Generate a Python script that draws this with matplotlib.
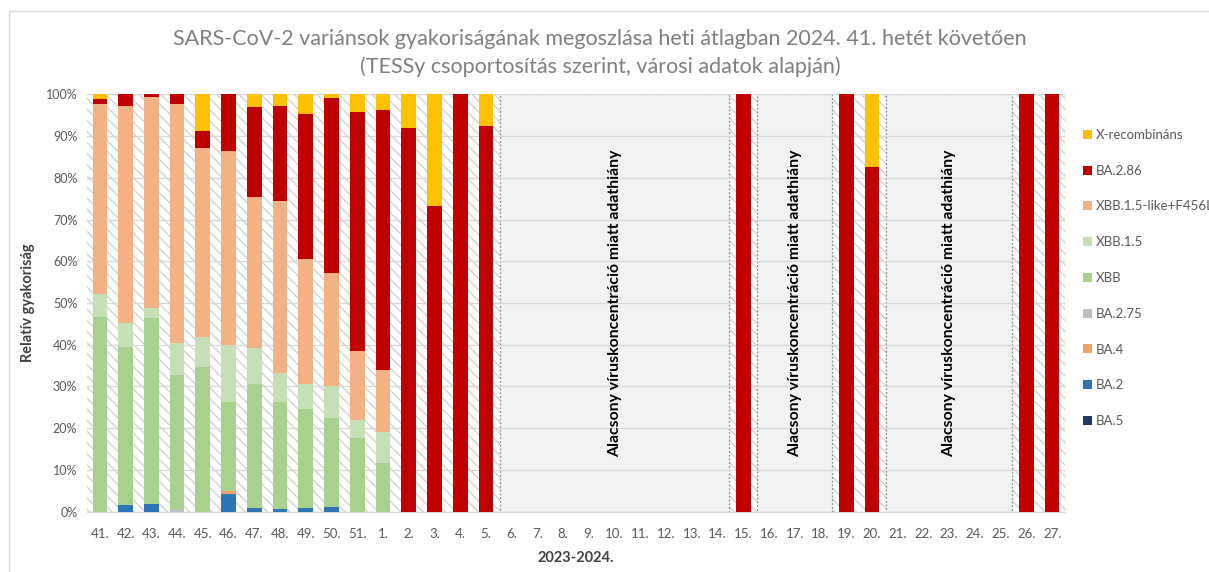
import matplotlib
matplotlib.use("Agg")
import matplotlib.pyplot as plt
from matplotlib.patches import Patch, Rectangle
import numpy as np

plt.rcParams['font.family'] = ['Lato', 'DejaVu Sans']
plt.rcParams['hatch.linewidth'] = 1.0
plt.rcParams['hatch.color'] = '#D3D3D3'

weeks = ['41.', '42.', '43.', '44.', '45.', '46.', '47.', '48.', '49.', '50.', '51.',
         '1.', '2.', '3.', '4.', '5.', '6.', '7.', '8.', '9.', '10.', '11.', '12.', '13.', '14.',
         '15.', '16.', '17.', '18.', '19.', '20.', '21.', '22.', '23.', '24.', '25.', '26.', '27.']

#            41   42   43   44   45   46   47   48   49   50   51    1    2     3    4     5   6-14              15   16-18    19    20    21-25       26    27
BA5      = [0,   0,   0,   0,   0,   0,   0,   0,   0,   0,   0,   0,   0,    0,   0,    0,  0,0,0,0,0,0,0,0,0, 0,   0,0,0,   0,    0,    0,0,0,0,0,  0,    0]
BA2      = [0, 1.6, 1.8,   0,   0, 4.2, 1.0, 0.6, 0.8, 1.2,   0,   0,   0,    0,   0,    0,  0,0,0,0,0,0,0,0,0, 0,   0,0,0,   0,    0,    0,0,0,0,0,  0,    0]
BA4      = [0,   0,   0,   0,   0, 0.8,   0,   0,   0,   0,   0,   0,   0,    0,   0,    0,  0,0,0,0,0,0,0,0,0, 0,   0,0,0,   0,    0,    0,0,0,0,0,  0,    0]
BA275    = [0,   0,   0, 0.6,   0,   0,   0,   0,   0,   0,   0,   0,   0,    0,   0,    0,  0,0,0,0,0,0,0,0,0, 0,   0,0,0,   0,    0,    0,0,0,0,0,  0,    0]
XBB      = [46.7, 37.8, 44.5, 32.1, 34.7, 21.4, 29.5, 25.8, 23.8, 21.3, 17.6, 11.6, 0, 0, 0, 0, 0,0,0,0,0,0,0,0,0, 0, 0,0,0, 0, 0, 0,0,0,0,0, 0, 0]
XBB15    = [5.5, 5.7, 2.4, 7.8, 7.2, 13.5, 8.7, 6.8, 6.1, 7.6, 4.4, 7.4, 0, 0, 0, 0, 0,0,0,0,0,0,0,0,0, 0, 0,0,0, 0, 0, 0,0,0,0,0, 0, 0]
XBBlike  = [45.5, 52.2, 50.7, 57.1, 45.2, 46.6, 36.2, 41.2, 29.8, 27.2, 16.6, 14.9, 0, 0, 0, 0, 0,0,0,0,0,0,0,0,0, 0, 0,0,0, 0, 0, 0,0,0,0,0, 0, 0]
BA286    = [1.2, 2.7, 0.6, 2.4, 4.2, 13.5, 21.6, 22.8, 34.9, 41.7, 57.1, 62.3, 91.9, 73.3, 100, 92.5, 0,0,0,0,0,0,0,0,0, 100, 0,0,0, 100, 82.5, 0,0,0,0,0, 100, 100]
Xrec     = [1.1, 0, 0, 0, 8.7, 0, 3.0, 2.8, 4.6, 1.0, 4.3, 3.8, 8.1, 26.7, 0, 7.5, 0,0,0,0,0,0,0,0,0, 0, 0,0,0, 0, 17.5, 0,0,0,0,0, 0, 0]

series_names = ['BA.5', 'BA.2', 'BA.4', 'BA.2.75', 'XBB', 'XBB.1.5', 'XBB.1.5-like+F456L', 'BA.2.86', 'X-recombináns']
series_vals = [BA5, BA2, BA4, BA275, XBB, XBB15, XBBlike, BA286, Xrec]
series_colors = ['#203864', '#2E75B6', '#F4A06A', '#BFBFBF', '#A9D18E', '#C5E0B4', '#F4B183', '#C00000', '#FFC000']

missing_ranges = [('6.', '14.'), ('16.', '18.'), ('21.', '25.')]
missing_text = 'Alacsony víruskoncentráció miatt adathiány'

title_text = ('SARS-CoV-2 variánsok gyakoriságának megoszlása heti átlagban 2024. 41. hetét követően\n'
              '(TESSy csoportosítás szerint, városi adatok alapján)')

W, H = 1209, 572
fig = plt.figure(figsize=(W / 100, H / 100), dpi=100)
ax = fig.add_axes([87 / W, 1 - 511.7 / H, (1065 - 87) / W, (511.7 - 94.3) / H])

# outer frame of the chart
fig.patches.append(Rectangle((9 / W, -0.1), 1.2, 1 - 11 / H + 0.1, transform=fig.transFigure,
                             facecolor='none', edgecolor='#D9D9D9', lw=1.0))

x = np.arange(len(weeks))
ax.set_xlim(-0.5, len(weeks) - 0.5)
ax.set_ylim(0, 1)

# hatched plot area
ax.add_patch(Rectangle((-0.5, 0), len(weeks), 1, facecolor='white', edgecolor='#D3D3D3',
                       hatch='\\\\\\', lw=0.01, zorder=0.5))
ax.set_facecolor('white')
ax.yaxis.grid(True, color='#D9D9D9', lw=1.0)
ax.set_axisbelow(False)
for ln in ax.get_ygridlines():
    ln.set_zorder(1)

bottom = np.zeros(len(weeks))
for name, vals, col in zip(series_names, series_vals, series_colors):
    v = np.array(vals, dtype=float) / 100.0
    ax.bar(x, v, bottom=bottom, width=0.57, color=col, edgecolor='none', zorder=3, label=name)
    bottom += v

for first, last in missing_ranges:
    i0 = weeks.index(first)
    i1 = weeks.index(last)
    left = i0 - 0.45
    right = i1 + 0.45
    ax.add_patch(Rectangle((left, 0), right - left, 1, facecolor='#F2F2F2', edgecolor='#8C8C8C',
                           lw=0.9, ls=(0, (1.5, 1.5)), zorder=2))
    ax.text((left + right) / 2, 0.5, missing_text, rotation=90, ha='center', va='center',
            fontsize=11.3, fontweight='bold', color='black', zorder=4)

ax.set_xticks(x)
ax.set_xticklabels(weeks, fontsize=9.5, color='#595959')
ax.set_yticks(np.linspace(0, 1, 11))
ax.set_yticklabels([f'{int(round(t * 100))}%' for t in np.linspace(0, 1, 11)], fontsize=9, color='#595959')
ax.tick_params(axis='both', length=0)
ax.tick_params(axis='x', pad=12)
ax.tick_params(axis='y', pad=7)
for s in ['top', 'right', 'left']:
    ax.spines[s].set_visible(False)
ax.spines['bottom'].set_color('#D9D9D9')
ax.spines['bottom'].set_zorder(1)

ax.set_xlabel('2023-2024.', fontsize=10.5, fontweight='bold', color='#404040')
ax.xaxis.set_label_coords(0.5, -(551 - 511.7) / (511.7 - 94.3))
ax.set_ylabel('Relatív gyakoriság', fontsize=10.5, fontweight='bold', color='#404040')
ax.yaxis.set_label_coords(-(87 - 35) / (1065 - 87), 0.5)

fig.text(600 / W, 1 - 53 / H, title_text, ha='center', va='center', fontsize=15.5,
         color='#7F7F7F', linespacing=1.4)

handles = [Patch(facecolor=c, edgecolor='none') for c in series_colors][::-1]
labels = series_names[::-1]
fig.legend(handles, labels, loc='upper left', bbox_to_anchor=(1083 / W, 1 - 129 / H),
           frameon=False, fontsize=9.5, handlelength=0.65, handleheight=0.65,
           handletextpad=0.35, labelspacing=1.8, borderpad=0, borderaxespad=0,
           labelcolor='#595959')

fig.savefig('out.png', dpi=100)
